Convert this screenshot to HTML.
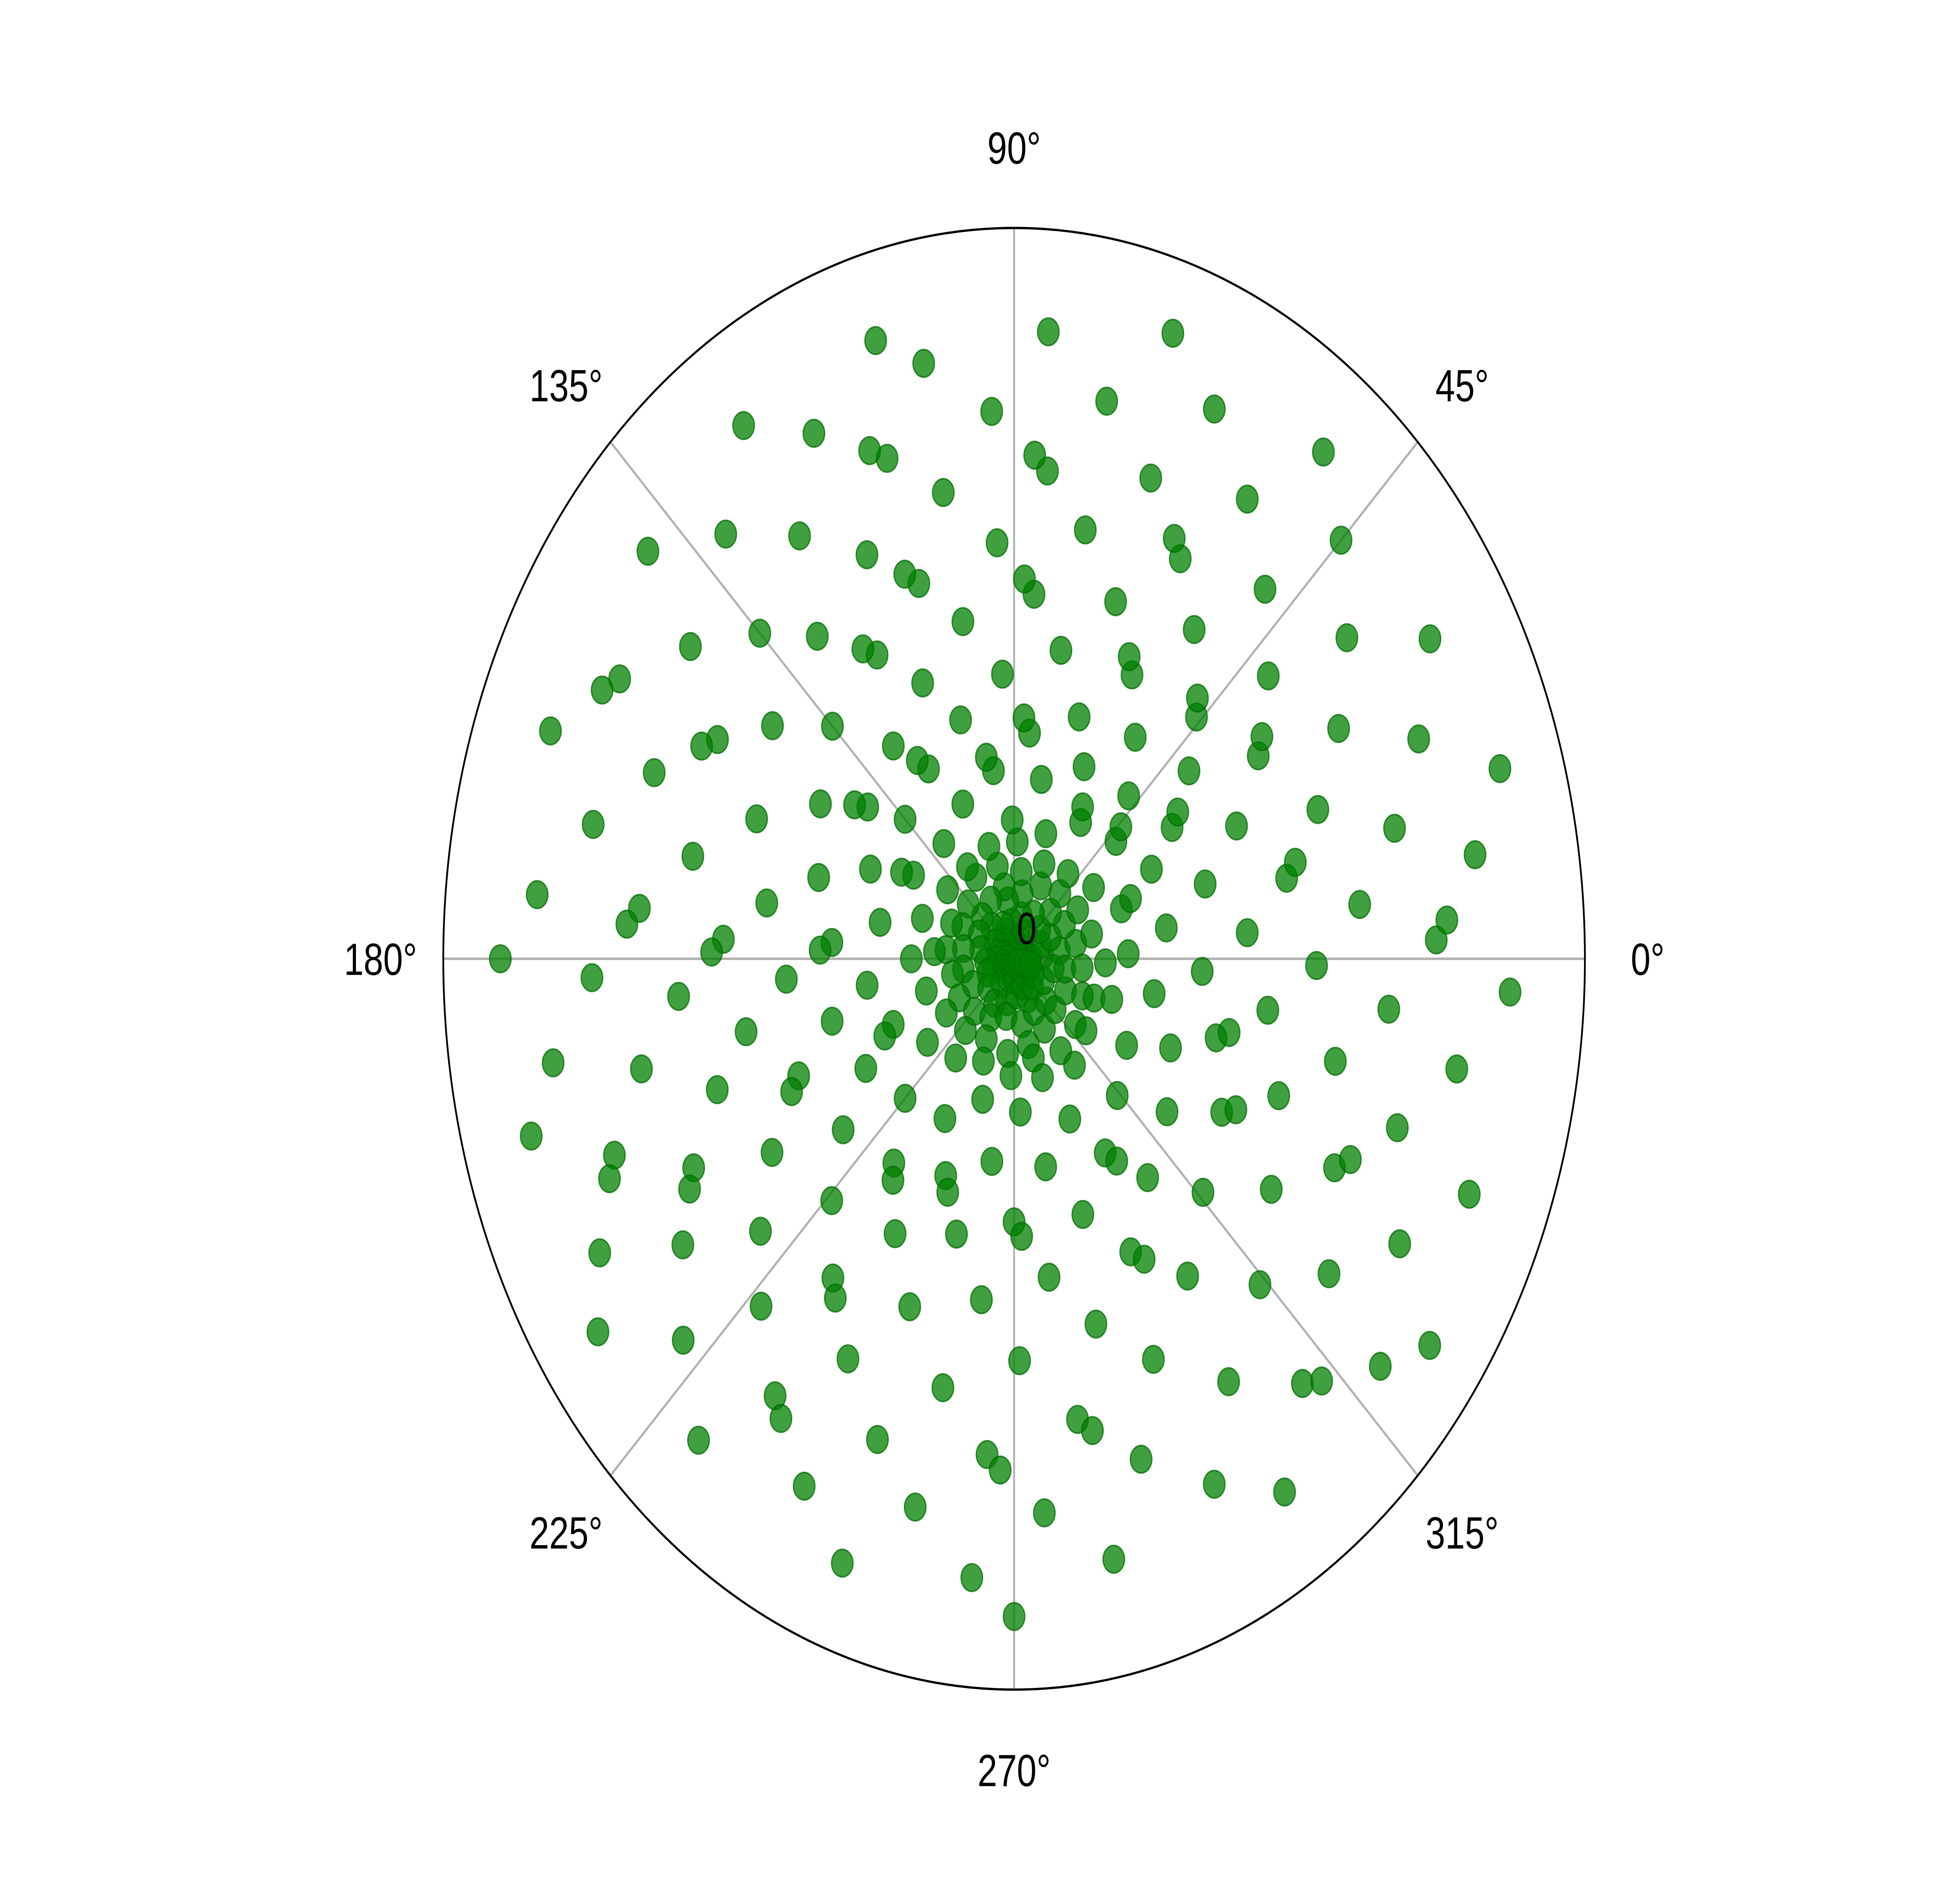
<!DOCTYPE html>
<html><head><meta charset="utf-8"><style>
html,body{margin:0;padding:0;background:#fff;overflow:hidden;width:100%;height:100%;}
svg{display:block;width:100vw;height:100vh;}
text{font-family:"Liberation Sans",sans-serif;font-size:28px;fill:#000;}
</style></head><body>
<svg id="chart" viewBox="0 0 1552 1164" preserveAspectRatio="none" xmlns="http://www.w3.org/2000/svg">
<rect width="1552" height="1164" fill="#fff"/>
<g id="grid"></g>
<g id="dots"></g>
<circle cx="803" cy="593" r="452" fill="none" stroke="#000" stroke-width="1.4"/>
<g id="labels"></g>
<text x="813" y="584" text-anchor="middle">0</text>
</svg>
<script>
const angleTicks = [0,45,90,135,180,225,270,315];
const tickLabels = ["0°","45°","90°","135°","180°","225°","270°","315°"];
const armBases = [0,18,36,54,72,90,108,126,144,162,180,198,216,234,252,270,288,306,324,342];
const armTwist = 100;
const armRadii = [
 [0.01,0.03,0.05,0.08,0.11,0.14,0.2,0.22,0.27,0.33,0.35,0.4,0.46,0.48,0.55,0.62,0.64,0.7,0.78,0.86],
 [0.02,0.05,0.07,0.1,0.13,0.17,0.24,0.26,0.3,0.37,0.44,0.46,0.52,0.6,0.67,0.69,0.75,0.83,0.88],
 [0.01,0.02,0.06,0.09,0.12,0.15,0.22,0.24,0.29,0.35,0.43,0.5,0.52,0.57,0.65,0.72,0.74,0.8,0.87],
 [0.02,0.04,0.07,0.11,0.14,0.18,0.25,0.31,0.33,0.39,0.47,0.54,0.56,0.61,0.69,0.77,0.85],
 [0.01,0.03,0.06,0.09,0.12,0.16,0.19,0.26,0.28,0.34,0.41,0.48,0.5,0.56,0.63,0.71,0.79,0.81,0.87],
 [0.02,0.03,0.05,0.08,0.1,0.13,0.16,0.23,0.3,0.32,0.36,0.45,0.53,0.6,0.62,0.68,0.76,0.84,0.9],
 [0.01,0.04,0.05,0.09,0.13,0.15,0.2,0.27,0.33,0.35,0.4,0.49,0.58,0.66,0.68,0.74,0.82,0.88],
 [0.02,0.03,0.06,0.08,0.11,0.15,0.21,0.23,0.28,0.36,0.44,0.51,0.53,0.59,0.67,0.75,0.77,0.83,0.89],
 [0.01,0.04,0.07,0.1,0.12,0.17,0.24,0.32,0.34,0.4,0.48,0.55,0.63,0.65,0.7,0.78,0.86],
 [0.02,0.03,0.06,0.09,0.12,0.14,0.18,0.26,0.33,0.41,0.43,0.5,0.58,0.65,0.73,0.75,0.81,0.88],
 [0.01,0.03,0.05,0.09,0.11,0.16,0.23,0.25,0.3,0.38,0.46,0.54,0.56,0.62,0.7,0.77,0.85,0.9],
 [0.02,0.04,0.05,0.08,0.11,0.14,0.19,0.27,0.35,0.37,0.43,0.51,0.6,0.68,0.7,0.76,0.84],
 [0.01,0.02,0.06,0.1,0.13,0.17,0.25,0.32,0.34,0.39,0.47,0.55,0.64,0.66,0.72,0.8,0.87],
 [0.02,0.04,0.07,0.09,0.12,0.15,0.2,0.28,0.36,0.38,0.44,0.52,0.6,0.69,0.77,0.79,0.85,0.9],
 [0.01,0.03,0.06,0.08,0.13,0.16,0.21,0.29,0.37,0.45,0.47,0.53,0.62,0.7,0.78,0.86],
 [0.02,0.03,0.05,0.09,0.12,0.14,0.17,0.24,0.31,0.33,0.38,0.46,0.55,0.63,0.65,0.71,0.79,0.87],
 [0.01,0.04,0.06,0.08,0.11,0.15,0.18,0.26,0.34,0.42,0.44,0.5,0.58,0.66,0.74,0.76,0.82,0.89],
 [0.02,0.03,0.05,0.08,0.1,0.14,0.16,0.23,0.3,0.37,0.39,0.45,0.53,0.61,0.69,0.77,0.85],
 [0.01,0.04,0.06,0.1,0.13,0.15,0.18,0.25,0.33,0.41,0.49,0.51,0.57,0.65,0.73,0.81,0.88],
 [0.02,0.03,0.07,0.09,0.12,0.16,0.2,0.27,0.35,0.43,0.51,0.53,0.59,0.67,0.75,0.83,0.9]
];
const NS="http://www.w3.org/2000/svg";
const cx=803, cy=593, R=452;
function px(rv,deg){return cx+rv*R*Math.cos(deg*Math.PI/180);}
function py(rv,deg){return cy-rv*R*Math.sin(deg*Math.PI/180);}
const grid=document.getElementById('grid');
const labels=document.getElementById('labels');
angleTicks.forEach((a,i)=>{
  const l=document.createElementNS(NS,'line');
  l.setAttribute('x1',cx);l.setAttribute('y1',cy);
  l.setAttribute('x2',px(1,a));l.setAttribute('y2',py(1,a));
  l.setAttribute('stroke','#b0b0b0');l.setAttribute('stroke-width','1.5');
  
  
  grid.appendChild(l);
  const t=document.createElementNS(NS,'text');
  t.setAttribute('x',px(1.11,a));t.setAttribute('y',py(1.11,a)+10);
  t.setAttribute('text-anchor','middle');
  t.textContent=tickLabels[i];
  
  
  labels.appendChild(t);
});
const dots=document.getElementById('dots');
armBases.forEach((b,ai)=>{
  armRadii[ai].forEach(rv=>{
    const a=b+armTwist*rv;
    const c=document.createElementNS(NS,'circle');
    c.setAttribute('cx',px(rv,a));c.setAttribute('cy',py(rv,a));
    c.setAttribute('r','8.5');
    c.setAttribute('fill','rgba(0,128,0,0.75)');
    c.setAttribute('stroke','rgba(0,110,0,0.75)');
    c.setAttribute('stroke-width','1');
    
    
    dots.appendChild(c);
  });
});
</script>
</body></html>
